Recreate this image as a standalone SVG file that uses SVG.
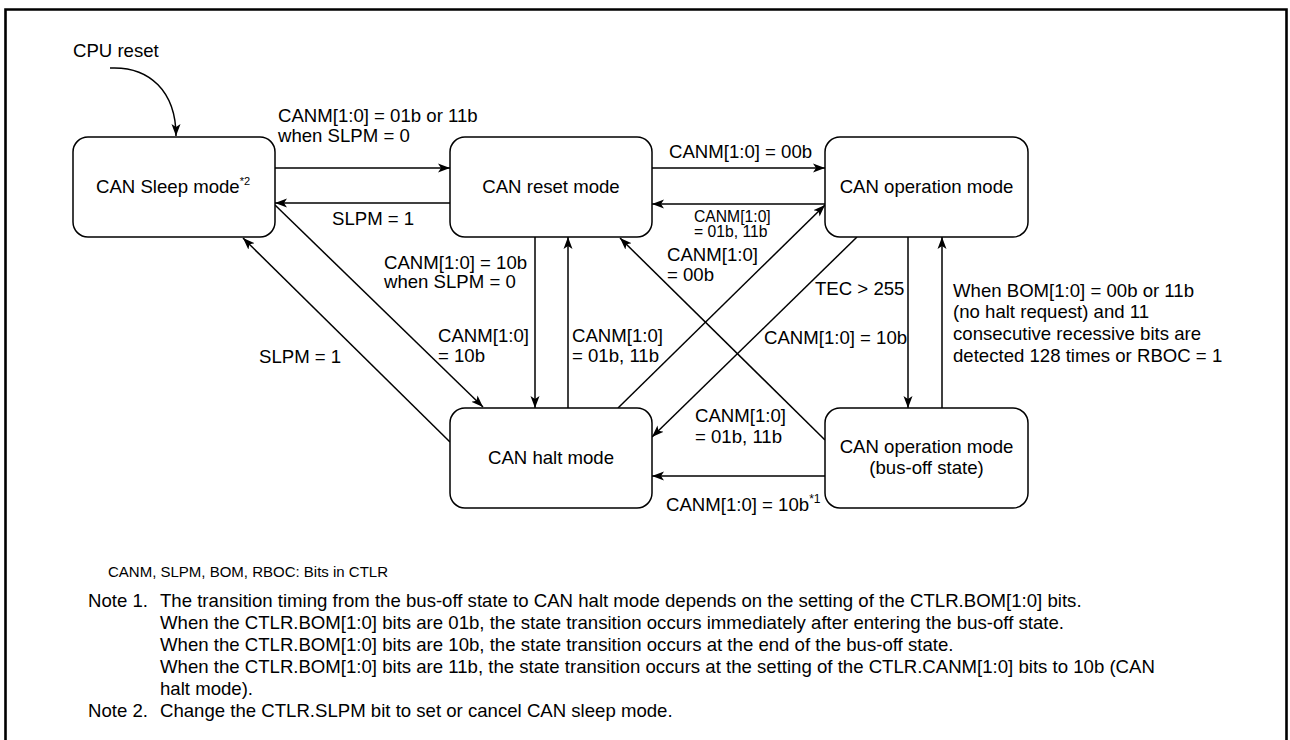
<svg xmlns="http://www.w3.org/2000/svg" width="1290" height="740" viewBox="0 0 1290 740">
<defs>
<style>
.frame{fill:none;stroke:#000;stroke-width:2.6}
.node rect{fill:#fff;stroke:#000;stroke-width:1.5}
.edge{fill:none;stroke:#000;stroke-width:1.5;marker-end:url(#arr)}
text{font-family:"Liberation Sans",Arial,Helvetica,sans-serif;fill:#000}
.lbl{font-size:18.6px}
.sm{font-size:15.7px}
.nt{font-size:18.6px;text-anchor:middle}
.note{font-size:18.6px}
.key{font-size:15px}
</style>
<marker id="arr" viewBox="0 0 12 10" refX="12" refY="5" markerWidth="12" markerHeight="10" markerUnits="userSpaceOnUse" orient="auto">
<path d="M0,0.5 L12,5 L0,9.5 L3,5 z" fill="#000"/>
</marker>
</defs>
<rect width="1290" height="740" fill="#fff"/>
<path class="frame" d="M5.5,745 V9.5 H1286.5 V745"/>

<g id="connectors">
<path class="edge" d="M110,68 C150,66 176,92 176,136"/>
<path class="edge" d="M275,168 H450"/>
<path class="edge" d="M450,203 H275"/>
<path class="edge" d="M652,168 H825"/>
<path class="edge" d="M825,204 H652"/>
<path class="edge" d="M275,205 L483,407"/>
<path class="edge" d="M450,442 L243,238"/>
<path class="edge" d="M535,237 V408"/>
<path class="edge" d="M568,408 V237"/>
<path class="edge" d="M825,440 L620,238"/>
<path class="edge" d="M618,408 L825,205"/>
<path class="edge" d="M857,237 L652,437"/>
<path class="edge" d="M908,237 V408"/>
<path class="edge" d="M942,408 V237"/>
<path class="edge" d="M825,476 H652"/>
</g>

<g id="node-sleep" class="node">
<rect x="73" y="137" width="202" height="100" rx="15"/>
<text class="lbl" x="96" y="193">CAN Sleep mode<tspan font-size="11" dy="-8">*2</tspan></text>
</g>
<g id="node-reset" class="node">
<rect x="450" y="137" width="202" height="100" rx="15"/>
<text class="nt" x="551" y="193">CAN reset mode</text>
</g>
<g id="node-operation" class="node">
<rect x="825" y="137" width="203" height="100" rx="15"/>
<text class="nt" x="926.5" y="193">CAN operation mode</text>
</g>
<g id="node-halt" class="node">
<rect x="450" y="408" width="202" height="100" rx="15"/>
<text class="nt" x="551" y="464">CAN halt mode</text>
</g>
<g id="node-busoff" class="node">
<rect x="825" y="408" width="203" height="100" rx="15"/>
<text class="nt" x="926.5" y="453">CAN operation mode</text>
<text class="nt" x="926.5" y="474">(bus-off state)</text>
</g>

<g id="labels">
<text class="lbl" x="73" y="57">CPU reset</text>
<text class="lbl" x="278" y="122">CANM[1:0] = 01b or 11b</text>
<text class="lbl" x="278" y="142">when SLPM = 0</text>
<text class="lbl" x="332" y="225">SLPM = 1</text>
<text class="lbl" x="669" y="158">CANM[1:0] = 00b</text>
<text class="sm" x="694" y="222">CANM[1:0]</text>
<text class="sm" x="694" y="237">= 01b, 11b</text>
<text class="lbl" x="384" y="269">CANM[1:0] = 10b</text>
<text class="lbl" x="384" y="288">when SLPM = 0</text>
<text class="lbl" x="667" y="261">CANM[1:0]</text>
<text class="lbl" x="667" y="281">= 00b</text>
<text class="lbl" x="815" y="295">TEC &gt; 255</text>
<text class="lbl" x="764" y="344">CANM[1:0] = 10b</text>
<text class="lbl" x="953" y="297">When BOM[1:0] = 00b or 11b</text>
<text class="lbl" x="953" y="318">(no halt request) and 11</text>
<text class="lbl" x="953" y="340">consecutive recessive bits are</text>
<text class="lbl" x="953" y="362">detected 128 times or RBOC = 1</text>
<text class="lbl" x="438" y="342">CANM[1:0]</text>
<text class="lbl" x="438" y="362">= 10b</text>
<text class="lbl" x="572" y="342">CANM[1:0]</text>
<text class="lbl" x="572" y="362">= 01b, 11b</text>
<text class="lbl" x="259" y="363">SLPM = 1</text>
<text class="lbl" x="695" y="422">CANM[1:0]</text>
<text class="lbl" x="695" y="443">= 01b, 11b</text>
<text class="lbl" x="666" y="511">CANM[1:0] = 10b<tspan font-size="12" dy="-8">*1</tspan></text>
</g>

<g id="notes">
<text class="key" x="108" y="577">CANM, SLPM, BOM, RBOC: Bits in CTLR</text>
<text class="note" x="88" y="607">Note 1.</text>
<text class="note" x="160" y="607">The transition timing from the bus-off state to CAN halt mode depends on the setting of the CTLR.BOM[1:0] bits.</text>
<text class="note" x="160" y="629">When the CTLR.BOM[1:0] bits are 01b, the state transition occurs immediately after entering the bus-off state.</text>
<text class="note" x="160" y="651">When the CTLR.BOM[1:0] bits are 10b, the state transition occurs at the end of the bus-off state.</text>
<text class="note" x="160" y="673">When the CTLR.BOM[1:0] bits are 11b, the state transition occurs at the setting of the CTLR.CANM[1:0] bits to 10b (CAN</text>
<text class="note" x="160" y="695">halt mode).</text>
<text class="note" x="88" y="717">Note 2.</text>
<text class="note" x="160" y="717">Change the CTLR.SLPM bit to set or cancel CAN sleep mode.</text>
</g>
</svg>
